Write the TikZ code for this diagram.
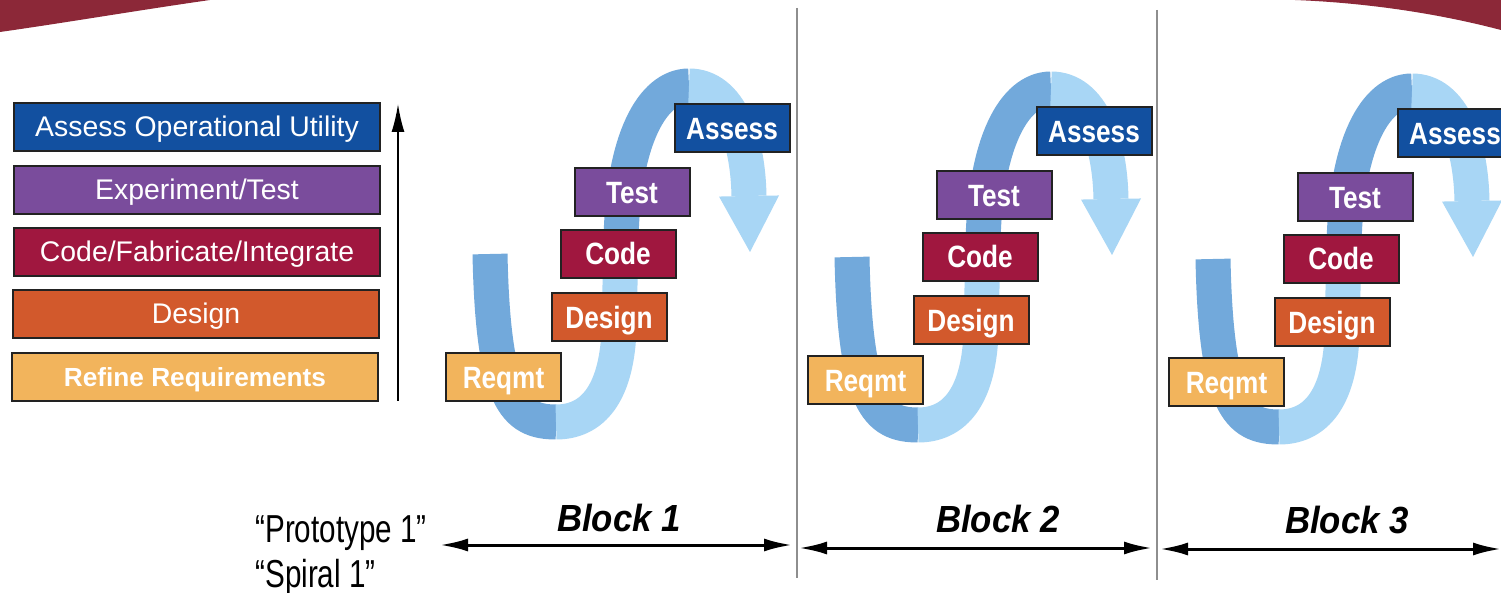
\documentclass[tikz,border=0pt]{standalone}
\usepackage{fontspec}
\setmainfont{Liberation Sans}
\newfontfamily\condfont[FakeStretch=0.85]{Liberation Sans}
\newfontfamily\narrowfont[FakeStretch=0.76]{Liberation Sans}
\newfontfamily\blockfont[FakeStretch=0.92]{Liberation Sans}
\usetikzlibrary{arrows.meta}
\definecolor{assessblue}{HTML}{1250A0}
\definecolor{testpurple}{HTML}{7A4C9C}
\definecolor{codered}{HTML}{A0173F}
\definecolor{designorange}{HTML}{D2592C}
\definecolor{reqyellow}{HTML}{F2B45C}
\definecolor{ribdark}{HTML}{72A9DB}
\definecolor{riblight}{HTML}{A8D6F5}
\definecolor{maroon}{HTML}{8C2838}
\definecolor{divgray}{HTML}{8E8E8E}
\definecolor{boxline}{HTML}{222222}

\begin{document}
\begin{tikzpicture}[x=0.5pt,y=-0.5pt,>={Latex[length=14pt,width=6.5pt]},
  phase/.style={draw=boxline,line width=1pt,minimum width=183pt,minimum height=24pt,inner sep=0pt,text=white,text height=10pt,text depth=0pt,font=\fontsize{14.2}{16}\selectfont},
  stage/.style={draw=boxline,line width=1pt,minimum width=57.5pt,minimum height=24pt,inner sep=0pt,text=white,text height=11pt,text depth=0pt,font=\condfont\bfseries\fontsize{15.4}{18}\selectfont},
  ribbon/.style={line width=17.5pt},
  divider/.style={draw=divgray,line width=1.3pt},
  span/.style={line width=1.5pt,<->},
  blocklabel/.style={anchor=base,inner sep=0pt,font=\blockfont\bfseries\itshape\fontsize{18.9}{22}\selectfont},
  note/.style={anchor=base west,inner sep=0pt,font=\narrowfont\fontsize{19.5}{22}\selectfont}]
\useasboundingbox (0,0) rectangle (1501,593);
\clip (0,0) rectangle (1501,593);
\fill[white] (0,0) rectangle (1501,593);

% red corners at the top
\fill[maroon] (0,0) -- (210,0) .. controls (140,10) and (70,22) .. (0,32) -- cycle;
\fill[maroon] (1295,0) -- (1501,0) -- (1501,30) .. controls (1440,14) and (1370,3) .. (1295,0) -- cycle;

% spiral ribbons, one per block
\foreach \dx/\dy in {0/0,362/3,723/5}{
  \begin{scope}[shift={(\dx,\dy)}]
    \draw[ribbon,ribdark] (490,254) .. controls (493,400) and (515,422) .. (556,422);
    \draw[ribbon,riblight] (556,422) .. controls (598,422) and (617,385) .. (619,330) -- (621,240);
    \draw[ribbon,ribdark] (621,240) .. controls (623,140) and (652,86) .. (689,86);
    \draw[ribbon,riblight,-{Triangle[length=28pt,width=30pt,line width=0pt]}] (689,86) .. controls (730,86) and (748,140) .. (750,252);
  \end{scope}
}

% phase legend
\node[phase,fill=assessblue] (assess) at (197,127) {Assess Operational Utility};
\node[phase,fill=testpurple] (exper) at (197,190) {Experiment/Test};
\node[phase,fill=codered] (fab) at (197,252) {Code/Fabricate/Integrate};
\node[phase,fill=designorange] (design) at (196,314) {Design};
\node[phase,fill=reqyellow,font=\bfseries\fontsize{13.1}{16}\selectfont] (refine) at (195,377) {Refine Requirements};
\coordinate (lvl0) at (398,401);
\coordinate (lvl1) at (398,104);
\draw[->,line width=0.9pt] (lvl0) -- (lvl1);

% block 1
\node[stage,fill=reqyellow] (reqmt1) at (503.5,377.5) {Reqmt};
\node[stage,fill=designorange] (design1) at (609,317.5) {Design};
\node[stage,fill=codered] (code1) at (618,254) {Code};
\node[stage,fill=testpurple] (test1) at (632,192.5) {Test};
\node[stage,fill=assessblue] (assess1) at (732,128.5) {Assess};
% block 2
\node[stage,fill=reqyellow] (reqmt2) at (865.5,380.5) {Reqmt};
\node[stage,fill=designorange] (design2) at (971,320.5) {Design};
\node[stage,fill=codered] (code2) at (980,257) {Code};
\node[stage,fill=testpurple] (test2) at (994,195.5) {Test};
\node[stage,fill=assessblue] (assess2) at (1094,131.5) {Assess};
% block 3
\node[stage,fill=reqyellow] (reqmt3) at (1226.5,382.5) {Reqmt};
\node[stage,fill=designorange] (design3) at (1332,322.5) {Design};
\node[stage,fill=codered] (code3) at (1341,259) {Code};
\node[stage,fill=testpurple] (test3) at (1355,197.5) {Test};
\node[stage,fill=assessblue] (assess3) at (1455,133.5) {Assess};

% dividers
\coordinate (d1t) at (797,8);
\coordinate (d1b) at (797,578);
\coordinate (d2t) at (1157,10);
\coordinate (d2b) at (1157,580);
\draw[divider] (d1t) -- (d1b);
\draw[divider] (d2t) -- (d2b);

% timeline
\node[note] (proto) at (255,543) {“Prototype 1”};
\node[note] (spiral) at (255,587) {“Spiral 1”};
\node[blocklabel] (blk1) at (619,531) {Block 1};
\node[blocklabel] (blk2) at (998,532) {Block 2};
\node[blocklabel] (blk3) at (1347,533) {Block 3};
\coordinate (s1l) at (440,545);
\coordinate (s1r) at (792,545);
\coordinate (s2l) at (799,548);
\coordinate (s2r) at (1152,548);
\coordinate (s3l) at (1160,549);
\coordinate (s3r) at (1501,549);
\draw[span] (s1l) -- (s1r);
\draw[span] (s2l) -- (s2r);
\draw[span] (s3l) -- (s3r);
\end{tikzpicture}
\end{document}
